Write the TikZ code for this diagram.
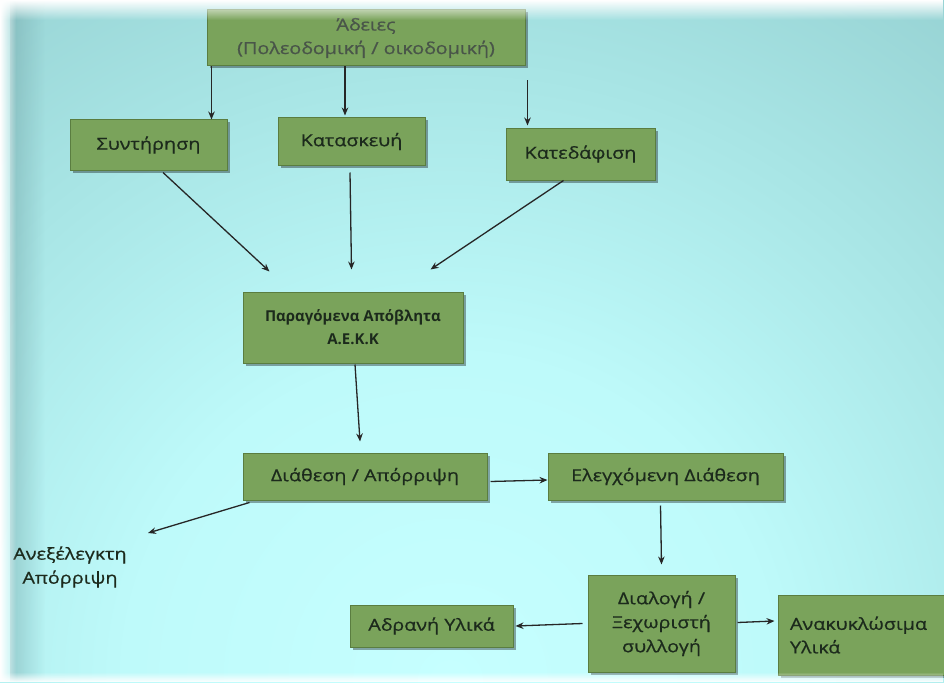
\documentclass[tikz,border=0pt]{standalone}
\usepackage{fontspec}
\setmainfont{Open Sans}
\newfontfamily\boxfont{Open Sans}[FakeStretch=1.2, FakeBold=0.8]
\usetikzlibrary{shadows,fadings,arrows.meta}
\definecolor{bgA}{HTML}{C6FFFF}
\definecolor{bgB}{HTML}{BEFAFA}
\definecolor{bgC}{HTML}{A8E5E5}
\definecolor{bgD}{HTML}{91CCCD}
\definecolor{bgE}{HTML}{7AB0B2}
\definecolor{bgF}{HTML}{6FA3A6}
\definecolor{bgG}{HTML}{6A9A9D}
\definecolor{boxfill}{HTML}{7AA35B}
\definecolor{boxline}{HTML}{5A7D40}
\definecolor{ink}{HTML}{1C2A1C}
\pgfdeclareradialshading{bgglow}{\pgfpoint{0bp}{0bp}}{color(0bp)=(bgA); color(9bp)=(bgB); color(17bp)=(bgC); color(26bp)=(bgD); color(37bp)=(bgE); color(44bp)=(bgF); color(50bp)=(bgG)}
\begin{document}
\begin{tikzpicture}[x=1pt,y=-1pt,
  box/.style={draw=boxline, fill=boxfill, line width=1pt,
    drop shadow={shadow xshift=2.5pt, shadow yshift=-2.5pt, opacity=0.35, fill=black},
    inner sep=0pt, align=center, text=ink, font=\boxfont\fontsize{16.5}{23.5}\selectfont},
  arr/.style={-{Stealth[length=8pt,width=6.5pt]}, line width=1.3pt, draw=black!85},
  label/.style={align=center, text=ink, font=\boxfont\fontsize{16.5}{24}\selectfont}]
\useasboundingbox (0,0) rectangle (944,682);
\clip (0,0) rectangle (944,682);
% backdrop: soft glow rising from the lower middle
\shade[shading=bgglow] (450,680) circle (900);
\fill[bgG, opacity=0.4, path fading=east] (10,0) rectangle (45,682);

% boxes
\node[box, minimum width=318, minimum height=56] (adeies) at (366,38)
  {\color{ink!80}Άδειες\\\color{ink!80}(Πολεοδομική / οικοδομική)};
\node[box, minimum width=157, minimum height=50] (synt) at (148.5,145) {Συντήρηση};
\node[box, minimum width=147, minimum height=47] (kat) at (351.5,141.5) {Κατασκευή};
\node[box, minimum width=149, minimum height=52] (kated) at (580.5,154) {Κατεδάφιση};
\node[box, minimum width=220, minimum height=71, font=\fontsize{15}{23}\selectfont\bfseries] (parag) at (353,327.5)
  {Παραγόμενα Απόβλητα\\Α.Ε.Κ.Κ};
\node[box, minimum width=244, minimum height=47] (diath) at (365,476.5) {Διάθεση / Απόρριψη};
\node[box, minimum width=235, minimum height=47] (elegx) at (665.5,476.5) {Ελεγχόμενη Διάθεση};
\node[box, minimum width=147, minimum height=97, font=\boxfont\fontsize{16.5}{24}\selectfont] (dial) at (661.5,623.5)
  {Διαλογή /\\Ξεχωριστή\\συλλογή};
\node[box, minimum width=163, minimum height=42] (adran) at (431.5,626) {Αδρανή Υλικά};
\node[box, text width=150, inner xsep=12, align=left, minimum height=80] (anak) at (865,635)
  {Ανακυκλώσιμα\\Υλικά};
\node[label] (anex) at (70,567) {Ανεξέλεγκτη\\Απόρριψη};
\coordinate (anexend) at (148,533);

% connectors
\draw[arr] ([xshift=5]adeies.south west) -- ([xshift=5]adeies.south west |- synt.north);
\draw[arr] ([xshift=-21]adeies.south) -- ([xshift=-21,yshift=2]adeies.south |- kat.north);
\draw[arr] ([xshift=2,yshift=-14]adeies.south east) -- ([xshift=2,yshift=2]adeies.south east |- kated.north);
\draw[arr] ([xshift=14.5,yshift=-2]synt.south) -- ([xshift=27,yshift=20]parag.north west);
\draw[arr] ([xshift=-1.5,yshift=-7]kat.south) -- ([yshift=22]parag.north -| kat.south);
\draw[arr] ([xshift=-17]kated.south) -- ([xshift=-33,yshift=22]parag.north east);
\draw[arr] ([xshift=2,yshift=-1]parag.south) -- ([xshift=-5,yshift=11]diath.north);
\draw[arr] ([xshift=3,yshift=-5]diath.east) -- ([yshift=-3.5]elegx.west);
\draw[arr] ([xshift=7,yshift=-2]diath.south west) -- (anexend);
\draw[arr] ([xshift=-5,yshift=-5]elegx.south) -- ([yshift=10]dial.north);
\draw[arr] ([xshift=-5]dial.west) -- ([xshift=2]adran.east);
\draw[arr] ([xshift=2,yshift=1]dial.east) -- ([xshift=-3,yshift=14]anak.west);

% pale rim around the backdrop
\fill[white, path fading=south] (0,0) rectangle (944,20);
\fill[white, path fading=east] (0,0) rectangle (16,682);
\fill[white, path fading=north] (0,672) rectangle (944,682);
\end{tikzpicture}
\end{document}
